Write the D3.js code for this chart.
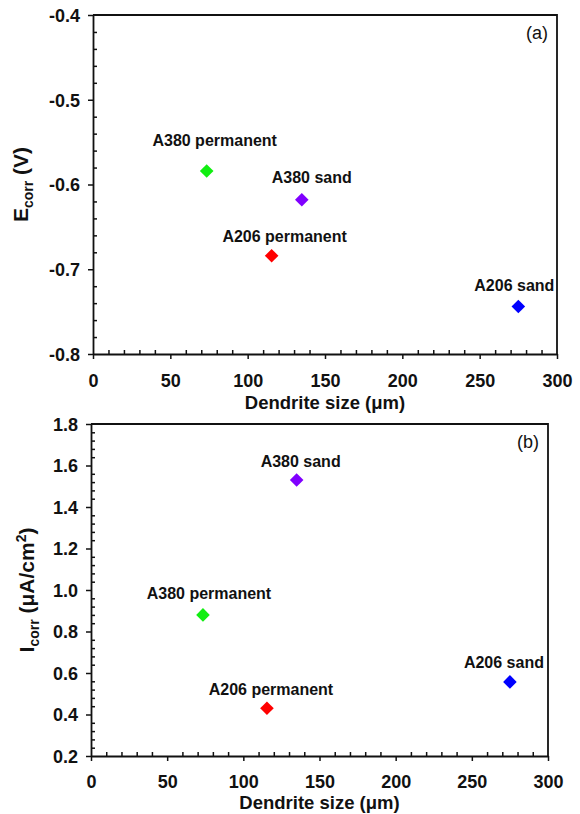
<!DOCTYPE html>
<html>
<head>
<meta charset="utf-8">
<script src="https://cdn.jsdelivr.net/npm/d3@7"></script>
<style>
  html, body { margin: 0; padding: 0; background: #fff; }
  svg { display: block; }
  text { font-family: "Liberation Sans", Arial, sans-serif; }
</style>
</head>
<body>
<div id="chart"></div>
<script>
// ---------------- data ----------------
const samples = ["A380 permanent", "A380 sand", "A206 permanent", "A206 sand"];
const colors = ["#11ee11", "#8000ff", "#ff0000", "#0000ff"];
const dendriteSize = [73.5, 135, 115.5, 275];
const ecorr = [-0.584, -0.618, -0.684, -0.744];
const icorr = [0.88, 1.53, 0.43, 0.557];

const xTicks = [0, 50, 100, 150, 200, 250, 300];
const yTicksA = [-0.8, -0.7, -0.6, -0.5, -0.4];
const yTicksB = [0.2, 0.4, 0.6, 0.8, 1.0, 1.2, 1.4, 1.6, 1.8];

// ---------------- layout ----------------
const W = 580, H = 814;
const svg = d3.select("#chart").append("svg").attr("width", W).attr("height", H);
svg.append("rect").attr("width", W).attr("height", H).attr("fill", "#fff");

// label offsets (px) relative to the marker, per sample
const labelOffA = [[8, -25], [10, -17], [13, -14], [-4, -16]];
const labelOffB = [[6, -16], [4, -13], [4, -13], [-6, -14]];

function panel(cfg) {
  const g = svg.append("g");
  const x = d3.scaleLinear().domain([0, 300]).range([cfg.left, cfg.right]);
  const y = d3.scaleLinear().domain(cfg.yDomain).range([cfg.bottom, cfg.top]);

  // minor ticks (inward)
  const xMinor = d3.range(0, 301, 10).filter(v => v % 50 !== 0);
  g.append("g").attr("transform", `translate(0,${cfg.bottom})`)
    .call(d3.axisTop(x).tickValues(xMinor).tickSize(4).tickFormat(""))
    .call(s => s.select(".domain").remove())
    .call(s => s.selectAll("line").attr("stroke", "#111").attr("stroke-width", 1.5));
  const yMinor = d3.range(cfg.yDomain[0], cfg.yDomain[1] + 1e-9, cfg.yMinorStep)
    .filter(v => !cfg.yTicks.some(t => Math.abs(t - v) < 1e-6));
  g.append("g").attr("transform", `translate(${cfg.left},0)`)
    .call(d3.axisRight(y).tickValues(yMinor).tickSize(4).tickFormat(""))
    .call(s => s.select(".domain").remove())
    .call(s => s.selectAll("line").attr("stroke", "#111").attr("stroke-width", 1.5));

  // major axes (outward)
  const xAxis = g.append("g").attr("transform", `translate(0,${cfg.bottom})`)
    .call(d3.axisBottom(x).tickValues(xTicks).tickSize(5).tickSizeOuter(0).tickPadding(cfg.xPad).tickFormat(d => d));
  const yAxis = g.append("g").attr("transform", `translate(${cfg.left},0)`)
    .call(d3.axisLeft(y).tickValues(cfg.yTicks).tickSize(5).tickSizeOuter(0).tickPadding(8).tickFormat(d => d.toFixed(1)));
  [xAxis, yAxis].forEach(a => {
    a.selectAll("line").attr("stroke", "#111").attr("stroke-width", 1.5);
    a.select(".domain").attr("stroke", "#111").attr("stroke-width", 1.8);
    a.selectAll("text").attr("fill", "#111").style("font-size", "18px").style("font-weight", "bold")
      .style("font-family", '"Liberation Sans", Arial, sans-serif');
  });
  yAxis.selectAll("text").attr("dy", "0.36em");

  // frame top/right
  g.append("path")
    .attr("d", `M${cfg.left},${cfg.top}H${cfg.right}V${cfg.bottom}`)
    .attr("fill", "none").attr("stroke", "#111").attr("stroke-width", 1.8);

  // markers
  samples.forEach((s, i) => {
    const px = x(dendriteSize[i]), py = y(cfg.values[i]);
    g.append("path")
      .attr("d", "M0,-6.8L6.8,0L0,6.8L-6.8,0Z")
      .attr("transform", `translate(${px},${py})`)
      .attr("fill", colors[i]);
    g.append("text")
      .attr("x", px + cfg.labelOff[i][0]).attr("y", py + cfg.labelOff[i][1])
      .attr("text-anchor", "middle")
      .style("font-size", "16px").style("font-weight", "bold").attr("fill", "#111")
      .text(s);
  });

  // panel tag
  g.append("text").attr("x", cfg.right - 9).attr("y", cfg.top + 24)
    .attr("text-anchor", "end").style("font-size", "18px").attr("fill", "#111")
    .text(cfg.tag);

  // x title
  const xt = g.append("text").attr("x", (cfg.left + cfg.right) / 2).attr("y", cfg.bottom + cfg.xTitleDy)
    .attr("text-anchor", "middle").style("font-size", "18.5px").style("font-weight", "bold").attr("fill", "#111");
  xt.append("tspan").text("Dendrite size (");
  xt.append("tspan").text("μ");
  xt.append("tspan").text("m)");

  // y title
  const yt = g.append("text")
    .attr("transform", `translate(${cfg.yTitleX},${(cfg.top + cfg.bottom) / 2}) rotate(-90)`)
    .attr("text-anchor", "middle").style("font-size", "21px").style("font-weight", "bold").attr("fill", "#111");
  cfg.yTitle(yt);
}

panel({
  left: 93, right: 557, top: 15, bottom: 354,
  yDomain: [-0.8, -0.4], yTicks: yTicksA, yMinorStep: 0.02,
  values: ecorr, labelOff: labelOffA, tag: "(a)", yTitleX: 28, xPad: 15, xTitleDy: 55,
  yTitle: t => {
    t.append("tspan").text("E");
    t.append("tspan").attr("dy", 5).style("font-size", "14px").text("corr");
    t.append("tspan").attr("dy", -5).text(" (V)");
  }
});

panel({
  left: 91, right: 548, top: 424, bottom: 756,
  yDomain: [0.2, 1.8], yTicks: yTicksB, yMinorStep: 0.04,
  values: icorr, labelOff: labelOffB, tag: "(b)", yTitleX: 34, xPad: 14, xTitleDy: 53,
  yTitle: t => {
    t.append("tspan").text("I");
    t.append("tspan").attr("dy", 5).style("font-size", "14px").text("corr");
    t.append("tspan").attr("dy", -5).text(" (μA/cm");
    t.append("tspan").attr("dy", -8).style("font-size", "14px").text("2");
    t.append("tspan").attr("dy", 8).text(")");
  }
});
</script>
</body>
</html>
